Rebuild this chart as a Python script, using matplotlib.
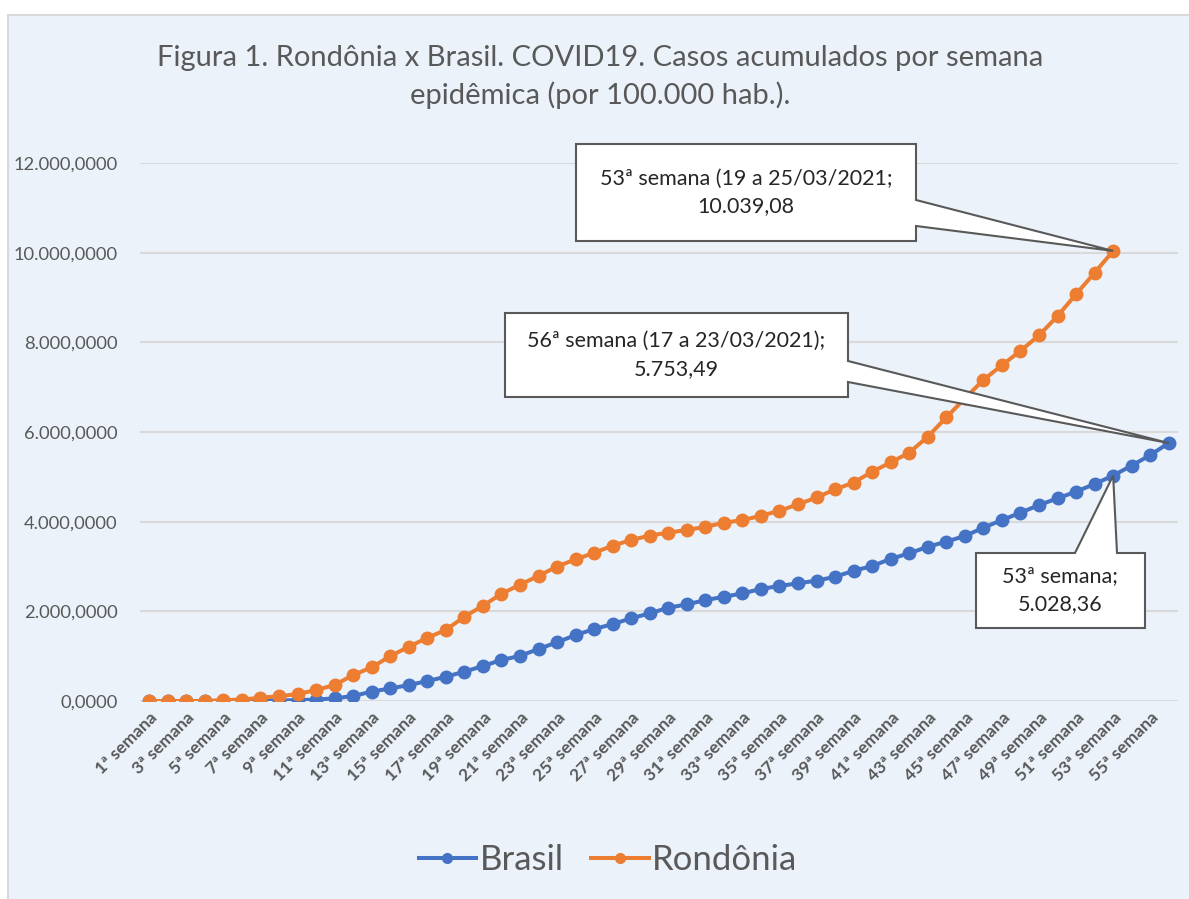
import matplotlib
matplotlib.use("Agg")
import matplotlib.pyplot as plt
from matplotlib.patches import Rectangle, Polygon
from matplotlib.lines import Line2D
from matplotlib.ticker import FuncFormatter

plt.rcParams['font.family'] = ['Lato', 'DejaVu Sans']

# ---------------- data ----------------
weeks = [f"{i}ª semana" for i in range(1, 57)]
brasil = [0, 0, 0, 0, 1, 2, 5, 10, 20, 30,
          60, 110, 210, 280, 355, 445, 540, 655, 780, 915,
          1005, 1160, 1310, 1470, 1605, 1715, 1845, 1955, 2080, 2155,
          2250, 2325, 2400, 2500, 2565, 2625, 2685, 2770, 2905, 3010,
          3170, 3295, 3440, 3555, 3680, 3865, 4035, 4200, 4370, 4520,
          4670, 4840, 5028.36, 5250, 5485, 5753.49]
rondonia = [0, 0, 0, 0, 20, 30, 75, 105, 155, 245,
            357, 580, 750, 1000, 1210, 1410, 1585, 1880, 2125, 2390,
            2595, 2790, 3000, 3160, 3305, 3465, 3590, 3690, 3755, 3815,
            3885, 3975, 4035, 4130, 4245, 4385, 4540, 4720, 4872, 5115,
            5320, 5540, 5895, 6325, 6750, 7160, 7490, 7810, 8155, 8585,
            9075, 9550, 10039.08]
yticks = [0, 2000, 4000, 6000, 8000, 10000, 12000]
title = "Figura 1. Rondônia x Brasil. COVID19. Casos acumulados por semana\nepidêmica (por 100.000 hab.)."
callouts = [
    ("53ª semana (19 a 25/03/2021;\n10.039,08", "Rondônia", 53),
    ("56ª semana (17 a 23/03/2021);\n5.753,49", "Brasil", 56),
    ("53ª semana;\n5.028,36", "Brasil", 53),
]

BLUE = "#4472C4"
ORANGE = "#ED7D31"
BG = "#EBF2FA"
GRID = "#D9D9D9"
TXT = "#595959"

W, H = 1189, 899
fig = plt.figure(figsize=(W / 100, H / 100), dpi=100)
fig.patch.set_facecolor("white")


def fx(px):
    return px / W


def fy(py):
    return 1 - py / H


# chart area background
fig.patches.append(Rectangle((fx(8), fy(1000)), fx(1300), fy(15) - fy(1000),
                             transform=fig.transFigure, facecolor=BG,
                             edgecolor=GRID, linewidth=1.5, zorder=-5))

ax = fig.add_axes([fx(140), fy(701), fx(1178) - fx(140), fy(163) - fy(701)])
ax.set_zorder(1)
ax.set_facecolor("none")
for s in ax.spines.values():
    s.set_visible(False)

xs = list(range(1, len(weeks) + 1))
ax.plot(xs[:len(brasil)], brasil, color=BLUE, lw=2.9, marker='o', ms=9,
        label="Brasil", zorder=3, solid_capstyle='round')
ax.plot(xs[:len(rondonia)], rondonia, color=ORANGE, lw=2.9, marker='o', ms=9,
        label="Rondônia", zorder=4, solid_capstyle='round')

ax.set_xlim(0.5, len(weeks) + 0.5)
ax.set_ylim(0, 12000)
ax.set_yticks(yticks)
ax.yaxis.set_major_formatter(FuncFormatter(
    lambda v, p: f"{v:,.4f}".replace(",", "X").replace(".", ",").replace("X", ".")))
ax.grid(axis='y', color=GRID, lw=1.5)
ax.set_axisbelow(True)
ax.tick_params(axis='y', length=0, labelsize=13.2, labelcolor=TXT, pad=16)
ax.set_xticks(xs[::2])
ax.set_xticklabels(weeks[::2], rotation=45, ha='right', rotation_mode='anchor',
                   fontsize=12.5, fontweight='bold', color=TXT)
ax.tick_params(axis='x', length=0, pad=6)

fig.text(fx(600), fy(77), title, ha='center', va='center', fontsize=21,
         color=TXT, linespacing=1.45, multialignment='center')

# legend
handles = [Line2D([], [], color=BLUE, lw=2.9, marker='o', ms=7),
           Line2D([], [], color=ORANGE, lw=2.9, marker='o', ms=7)]
fig.legend(handles, ["Brasil", "Rondônia"], loc='center',
           bbox_to_anchor=(fx(608), fy(860)), ncol=2, frameon=False,
           fontsize=25, handlelength=1.65, handletextpad=0.1,
           columnspacing=0.8, labelcolor=TXT)

# callouts (box in figure pixels, wedge apex at the data point)
fig.canvas.draw()
series = {"Brasil": brasil, "Rondônia": rondonia}
boxes = [
    # left, top, right, bottom, wedge side, wedge base a, wedge base b
    (576, 144, 916, 241, 'right', 200, 226),
    (505, 313, 848, 397, 'right', 361, 382),
    (976, 553, 1145, 628, 'top', 1075, 1117),
]
for (txt, name, wk), (l, t, r, b, side, a1, a2) in zip(callouts, boxes):
    val = series[name][wk - 1]
    dx, dy = ax.transData.transform((wk, val))
    apx, apy = dx, H - dy
    if side == 'right':
        pts = [(l, t), (r, t), (r, a1), (apx, apy), (r, a2), (r, b), (l, b)]
    else:
        pts = [(l, t), (a1, t), (apx, apy), (a2, t), (r, t), (r, b), (l, b)]
    poly = Polygon([(fx(x), fy(y)) for x, y in pts], closed=True,
                   transform=fig.transFigure, facecolor='white',
                   edgecolor='#595959', lw=1.5, zorder=10)
    fig.patches.append(poly)
    fig.text(fx((l + r) / 2), fy((t + b) / 2), txt, ha='center', va='center',
             fontsize=15.5, color='#262626', zorder=11, linespacing=1.5,
             multialignment='center')

fig.savefig("out.png", dpi=100, facecolor=fig.get_facecolor())
